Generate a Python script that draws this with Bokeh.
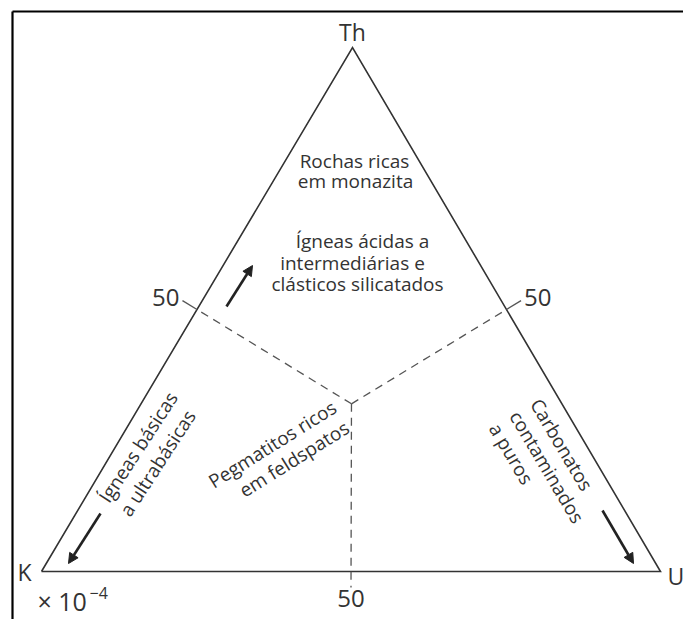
import math
from bokeh.plotting import figure
from bokeh.models import Range1d, Arrow, NormalHead
from bokeh.embed import file_html
from bokeh.resources import INLINE
from bokeh.core.properties import value

# ---------------- data ----------------
vertex_names = ["K", "U", "Th"]
tick_labels = ["50", "50", "50"]
# ternary composition (K, U, Th) of the point where the dashed lines meet
centre_ternary = (0.34, 0.34, 0.32)
half_share = 0.5

region_top = ["Rochas ricas", "em monazita"]
region_acid = ["Ígneas ácidas a", "intermediárias e", "clásticos silicatados"]
region_basic = ["Ígneas básicas", "a ultrabásicas"]
region_carb = ["Carbonatos", "contaminados", "a puros"]
region_peg = ["Pegmatitos ricos", "em feldspatos"]
scale_label = "× 10"
scale_exp = "−4"

# ---------------- layout ----------------
VERT = {"K": (41, 571), "U": (660, 571), "Th": (352, 47)}
FONT = value("Open Sans")
TXT = "#333333"
LINE = "#333333"
W, H = 683, 619


def tern(k, u, th):
    x = k * VERT["K"][0] + u * VERT["U"][0] + th * VERT["Th"][0]
    y = k * VERT["K"][1] + u * VERT["U"][1] + th * VERT["Th"][1]
    return x, y


p = figure(width=W, height=H, x_range=Range1d(0, W), y_range=Range1d(H, 0),
           output_backend="svg", toolbar_location=None,
           x_axis_type=None, y_axis_type=None, min_border=0)
p.grid.visible = False
p.outline_line_color = None
p.background_fill_color = "white"
p.border_fill_color = "white"

# frame of the scanned figure
p.segment(x0=[12, 12], y0=[11, 11], x1=[W, 12], y1=[11, H], line_color="black", line_width=2.2)

# triangle
order = ["K", "U", "Th", "K"]
p.line([VERT[v][0] for v in order], [VERT[v][1] for v in order], line_color=LINE,
       line_width=1.6, line_join="miter")

# centre and edge midpoints
cx, cy = tern(*centre_ternary)
mid_left = tern(half_share, 0, half_share)
mid_right = tern(0, half_share, half_share)
mid_base = tern(half_share, half_share, 0)

DASH = "8 6"
p.segment(x0=[cx, cx], y0=[cy, cy], x1=[mid_left[0], mid_right[0]], y1=[mid_left[1], mid_right[1]],
          line_color="#555555", line_width=1.3, line_dash=DASH)
p.segment(x0=[cx], y0=[cy], x1=[mid_base[0]], y1=[mid_base[1] + 16],
          line_color="#555555", line_width=1.3, line_dash=DASH)


def extend(mx, my, length):
    dx, dy = mx - cx, my - cy
    n = math.hypot(dx, dy)
    return mx + dx / n * length, my + dy / n * length


tl = extend(*mid_left, 17)
tr = extend(*mid_right, 17)
p.segment(x0=[mid_left[0], mid_right[0]], y0=[mid_left[1], mid_right[1]],
          x1=[tl[0], tr[0]], y1=[tl[1], tr[1]], line_color="#555555", line_width=1.3)

# tick labels
p.text(x=[tl[0] - 3, tr[0] + 3, mid_base[0]], y=[tl[1] - 3, tr[1] - 3, mid_base[1] + 18],
       text=tick_labels, text_align=["right", "left", "center"],
       text_baseline=["middle", "middle", "top"], text_font=FONT,
       text_font_size="24px", text_color=TXT)

# vertex labels
p.text(x=[VERT["K"][0] - 10, VERT["U"][0] + 7],
       y=[VERT["K"][1], VERT["U"][1] + 4],
       text=vertex_names[:2], text_align=["right", "left"],
       text_baseline="middle", text_font=FONT,
       text_font_size="23px", text_color=TXT)
p.text(x=[VERT["Th"][0]], y=[VERT["Th"][1] - 16], text=vertex_names[2:],
       text_align="center", text_baseline="middle", text_font=FONT,
       text_font_size="23px", text_color=TXT)

# scale note
p.text(x=[37], y=[600], text=[scale_label], text_align="left", text_baseline="middle",
       text_font=FONT, text_font_size="25px", text_color=TXT)
p.text(x=[89], y=[592], text=[scale_exp], text_align="left", text_baseline="middle",
       text_font=FONT, text_font_size="16px", text_color=TXT)


def block(lines, x0, y0, angle_deg, spacing, align, size="19px"):
    a = math.radians(angle_deg)
    dx, dy = math.sin(a), math.cos(a)
    xs = [x0 + i * spacing * dx for i in range(len(lines))]
    ys = [y0 + i * spacing * dy for i in range(len(lines))]
    p.text(x=xs, y=ys, text=lines, angle=angle_deg, angle_units="deg",
           text_align=align, text_baseline="middle", text_font=FONT,
           text_font_size=size, text_color=TXT)


p.text(x=[354, 355], y=[160, 180], text=region_top, text_align="center",
       text_baseline="middle", text_font=FONT, text_font_size="19px", text_color=TXT)
p.text(x=[362, 352, 357], y=[240, 262, 283], text=region_acid, text_align="center",
       text_baseline="middle", text_font=FONT, text_font_size="19px", text_color=TXT)
block(region_basic, 103, 500, 57, 25, "left")
block(region_carb, 535, 400, -59.4, 24, "left")
block(region_peg, 334, 405, 32, 24, "right")

# arrows
for (xs, ys, xe, ye) in [(226, 306, 252, 265), (100, 513, 68, 563), (602, 510, 633, 563)]:
    p.add_layout(Arrow(x_start=xs, y_start=ys, x_end=xe, y_end=ye, line_width=2.6,
                       line_color="#222222",
                       end=NormalHead(size=10, fill_color="#222222", line_color="#222222")))

open("out.html", "w").write(file_html(p, INLINE))
